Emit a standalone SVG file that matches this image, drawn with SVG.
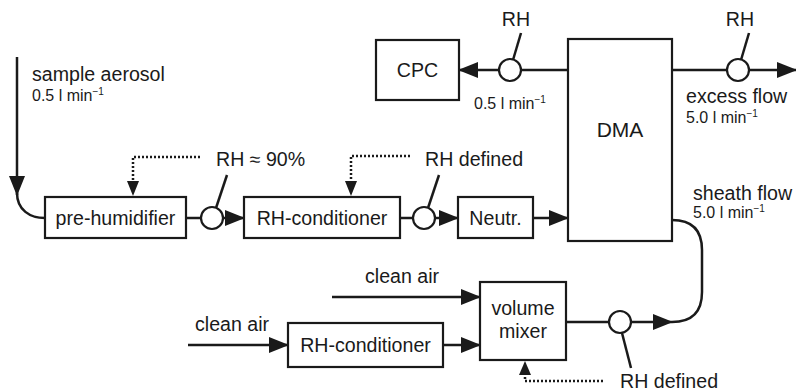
<svg xmlns="http://www.w3.org/2000/svg" width="796" height="392" viewBox="0 0 796 392">
<style>
.box{fill:#fff;stroke:#1a1a1a;stroke-width:2.2}
.ln{fill:none;stroke:#1a1a1a;stroke-width:2.5}
.dot{fill:none;stroke:#1a1a1a;stroke-width:2.5;stroke-dasharray:2 2}
.sen{fill:#fff;stroke:#1a1a1a;stroke-width:2.2}
.t{font-family:"Liberation Sans",Arial,sans-serif;font-size:19.6px;fill:#1a1a1a}
.s{font-family:"Liberation Sans",Arial,sans-serif;font-size:16px;fill:#1a1a1a}
.c{text-anchor:middle}
.ah{fill:#1a1a1a}
</style>
<defs>
<marker id="arr" markerUnits="userSpaceOnUse" markerWidth="20" markerHeight="16" refX="19" refY="8" orient="auto" viewBox="0 0 20 16">
<path d="M0,0 L20,8 L0,16 z" fill="#1a1a1a"/>
</marker>
</defs>
<g id="connectors">
<path class="ln" d="M17,57 V195" marker-end="url(#arr)"/>
<path class="ln" d="M17,193 C17,210 30,218 45,218"/>
<path class="ln" d="M186,218 H201"/>
<path class="ln" d="M223,218 H244" marker-end="url(#arr)"/>
<path class="ln" d="M400,218 H413"/>
<path class="ln" d="M435,218 H458" marker-end="url(#arr)"/>
<path class="ln" d="M533,218 H568" marker-end="url(#arr)"/>
<path class="ln" d="M568,70 H521"/>
<path class="ln" d="M499,70 H459" marker-end="url(#arr)"/>
<path class="ln" d="M672,70 H727"/>
<path class="ln" d="M749,70 H796" marker-end="url(#arr)"/>
<path class="ln" d="M672,220 Q702,220 702,250 V292 Q702,322 672,322"/>
<path class="ln" d="M566,322 H609"/>
<path class="ln" d="M631,322 H672" marker-end="url(#arr)"/>
<path class="ln" d="M332,297 H480" marker-end="url(#arr)"/>
<path class="ln" d="M188,345 H288" marker-end="url(#arr)"/>
<path class="ln" d="M443,345 H480" marker-end="url(#arr)"/>
<path class="ln" d="M216,208 L227,175"/>
<path class="ln" d="M428,208 L439,175"/>
<path class="ln" d="M513,60 L521,33"/>
<path class="ln" d="M741,60 L749,33"/>
<path class="ln" d="M622,333 L631,368"/>
<path class="dot" d="M200,157 H133 V182"/>
<path class="ah" d="M127,181 L139,181 L133,196 z"/>
<path class="dot" d="M410,156 H351 V181"/>
<path class="ah" d="M345,181 L357,181 L351,196 z"/>
<path class="dot" d="M603,381 H525 V374"/>
<path class="ah" d="M519,375 L531,375 L525,361 z"/>
</g>
<g id="sensors">
<circle class="sen" cx="212" cy="218" r="11"/>
<circle class="sen" cx="424" cy="218" r="11"/>
<circle class="sen" cx="510" cy="70" r="11"/>
<circle class="sen" cx="738" cy="70" r="11"/>
<circle class="sen" cx="620" cy="322" r="11"/>
</g>
<g id="prehumidifier"><rect class="box" x="45" y="197" width="141" height="41"/><text class="t c" x="115.5" y="225">pre-humidifier</text></g>
<g id="rhcond1"><rect class="box" x="244" y="197" width="156" height="41"/><text class="t c" x="322" y="225">RH-conditioner</text></g>
<g id="neutr"><rect class="box" x="458" y="197" width="75" height="41"/><text class="t c" x="495.5" y="225">Neutr.</text></g>
<g id="dma"><rect class="box" x="568" y="39" width="104" height="202"/><text class="t c" x="620" y="137" style="font-size:21px">DMA</text></g>
<g id="cpc"><rect class="box" x="376" y="40" width="83" height="60"/><text class="t c" x="417.5" y="77">CPC</text></g>
<g id="rhcond2"><rect class="box" x="288" y="323" width="155" height="44"/><text class="t c" x="365.5" y="352">RH-conditioner</text></g>
<g id="mixer"><rect class="box" x="480" y="282" width="86" height="78"/><text class="t c" x="523" y="315">volume</text><text class="t c" x="523" y="338">mixer</text></g>
<g id="labels">
<text class="t" x="32" y="81">sample aerosol</text>
<text class="s" x="32" y="101">0.5 l min<tspan dy="-6" font-size="10">−1</tspan></text>
<text class="t" x="216" y="166">RH ≈ 90%</text>
<text class="t" x="425" y="166">RH defined</text>
<text class="t c" x="516" y="26">RH</text>
<text class="t c" x="740" y="26">RH</text>
<text class="s" x="474" y="109">0.5 l min<tspan dy="-6" font-size="10">−1</tspan></text>
<text class="t" x="686" y="103">excess flow</text>
<text class="s" x="686" y="123">5.0 l min<tspan dy="-6" font-size="10">−1</tspan></text>
<text class="t" x="693" y="200">sheath flow</text>
<text class="s" x="693" y="218">5.0 l min<tspan dy="-6" font-size="10">−1</tspan></text>
<text class="t" x="365" y="283">clean air</text>
<text class="t" x="195" y="331">clean air</text>
<text class="t" x="620" y="388">RH defined</text>
</g>
</svg>
